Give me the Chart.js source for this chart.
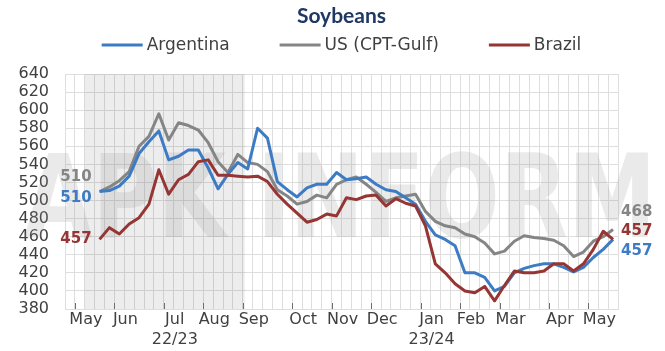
<!DOCTYPE html>
<html>
<head>
<meta charset="utf-8">
<script src="https://cdn.jsdelivr.net/npm/chart.js@4.4.1/dist/chart.umd.min.js"></script>
<style>
  html, body { margin: 0; padding: 0; background: #fff; }
  #wrap { width: 665px; height: 351px; }
</style>
</head>
<body>
<div id="wrap"><canvas id="myChart"></canvas></div>
<script>
// Weekly soybean export prices, USD/t
const argentina = [510, 511, 516, 527, 552, 565, 577, 545, 549, 556, 556, 536, 513, 529, 542, 535,
  580, 569, 521, 512, 504, 514, 518, 518, 531, 523, 524, 526, 518, 512, 510, 503, 496, 477,
  462, 457, 450, 420, 420, 415, 400, 405, 420, 425, 428, 430, 430, 426, 421, 426, 437, 446, 457];
const usGulf = [510, 515, 522, 532, 560, 571, 596, 567, 586, 583, 578, 564, 543, 531, 551, 542,
  540, 532, 512, 505, 496, 499, 506, 503, 518, 523, 526, 518, 509, 499, 503, 505, 507, 488,
  477, 472, 470, 463, 460, 453, 441, 444, 455, 461, 459, 458, 456, 450, 438, 443, 455, 460, 468];
const brazil = [457, 470, 463, 474, 481, 496, 534, 507, 523, 529, 543, 545, 528, 528, 527, 526,
  527, 521, 507, 496, 486, 476, 479, 485, 483, 503, 501, 505, 506, 494, 502, 497, 494, 472,
  430, 420, 408, 400, 398, 405, 389, 406, 422, 420, 420, 422, 430, 430, 422, 430, 446, 466, 457];

// x axis counts weeks from the first May tick
const firstWeek = 2.5;
const monthWeeks = [0, 4, 9, 13, 17, 22, 26, 30, 35, 39, 43, 48, 52];
const monthLabels = ['May', 'Jun', ['Jul', '22/23'], 'Aug', 'Sep', 'Oct', 'Nov', 'Dec',
  ['Jan', '23/24'], 'Feb', 'Mar', 'Apr', 'May'];
const seasonWeeks = [1, 17.2]; // shaded 22/23 stretch

const yMin = 380, yMax = 640, yStep = 20;

const FONT = '"DejaVu Sans", sans-serif';
const TEXT = '#404040';
const GRID = '#dedede';

const gridWeeks = [];
for (let w = -1; w <= 55; w++) gridWeeks.push(w);

const toPoints = values => values.map((v, i) => ({ x: firstWeek + i, y: v }));

// shading, watermark and the short month ticks, all under the lines
const backdrop = {
  id: 'backdrop',
  beforeDatasetsDraw(chart) {
    const { ctx, chartArea: area, scales: { x } } = chart;
    ctx.save();
    const x0 = x.getPixelForValue(seasonWeeks[0]);
    const x1 = x.getPixelForValue(seasonWeeks[1]);
    ctx.fillStyle = 'rgba(0,0,0,0.07)';
    ctx.fillRect(x0, area.top, x1 - x0, area.bottom - area.top);

    ctx.save();
    ctx.translate(24, 237);
    ctx.scale(0.77, 1);
    ctx.font = 'bold 115px ' + FONT;
    ctx.fillStyle = 'rgba(150,150,150,0.2)';
    ctx.textBaseline = 'alphabetic';
    ctx.fillText('APK INFORM', 0, 0);
    ctx.restore();

    ctx.strokeStyle = '#6e6e6e';
    ctx.lineWidth = 1;
    monthWeeks.forEach(w => {
      const px = Math.round(x.getPixelForValue(w)) + 0.5;
      ctx.beginPath();
      ctx.moveTo(px, area.bottom - 6);
      ctx.lineTo(px, area.bottom);
      ctx.stroke();
    });
    ctx.restore();
  }
};

// first and last values written beside each line
const valueLabels = {
  id: 'valueLabels',
  afterDatasetsDraw(chart) {
    const { ctx, scales: { x, y } } = chart;
    const nudges = [[7, 12], [-14, -17], [0, -8]]; // [start dy, end dy]
    ctx.save();
    ctx.font = 'bold 15px ' + FONT;
    ctx.textBaseline = 'middle';
    chart.data.datasets.forEach((ds, i) => {
      const first = ds.data[0];
      const last = ds.data[ds.data.length - 1];
      ctx.fillStyle = ds.borderColor;
      ctx.textAlign = 'right';
      ctx.fillText(String(first.y), x.getPixelForValue(first.x) - 8, y.getPixelForValue(first.y) + nudges[i][0]);
      ctx.textAlign = 'left';
      ctx.fillText(String(last.y), x.getPixelForValue(last.x) + 8, y.getPixelForValue(last.y) + nudges[i][1]);
    });
    ctx.restore();
  }
};

// legend row: line sample followed by the series name
const lineLegend = {
  id: 'lineLegend',
  afterDraw(chart) {
    const { ctx, chartArea: area } = chart;
    const lineLen = 41, gap = 4, itemGap = 50, yMid = 45;
    ctx.save();
    ctx.font = '17px ' + FONT;
    const items = chart.data.datasets.map(ds => ({
      text: ds.label, color: ds.borderColor,
      width: lineLen + gap + ctx.measureText(ds.label).width
    }));
    const total = items.reduce((s, it) => s + it.width, 0) + itemGap * (items.length - 1);
    let cx = (area.left + area.right) / 2 - total / 2;
    ctx.textBaseline = 'middle';
    ctx.textAlign = 'left';
    items.forEach(it => {
      ctx.strokeStyle = it.color;
      ctx.lineWidth = 3;
      ctx.beginPath();
      ctx.moveTo(cx, yMid);
      ctx.lineTo(cx + lineLen, yMid);
      ctx.stroke();
      ctx.fillStyle = TEXT;
      ctx.fillText(it.text, cx + lineLen + gap, yMid + 1);
      cx += it.width + itemGap;
    });
    ctx.restore();
  }
};

const ctx = document.getElementById('myChart').getContext('2d');
const myChart = new Chart(ctx, {
  type: 'line',
  data: {
    datasets: [
      { label: 'Argentina', data: toPoints(argentina), borderColor: '#3d7cc4', order: 2 },
      { label: 'US (CPT-Gulf)', data: toPoints(usGulf), borderColor: '#858585', order: 3 },
      { label: 'Brazil', data: toPoints(brazil), borderColor: '#953634', order: 1 }
    ]
  },
  options: {
    responsive: true,
    maintainAspectRatio: false,
    animation: false,
    layout: { padding: { left: 15, right: 47, top: 0, bottom: 0 } },
    elements: {
      line: { borderWidth: 3, tension: 0, borderJoinStyle: 'round', fill: false },
      point: { radius: 0, hoverRadius: 0 }
    },
    plugins: {
      legend: { display: false },
      tooltip: { enabled: false },
      title: {
        display: true,
        text: 'Soybeans',
        color: '#1f3864',
        fullSize: false,
        font: { family: 'Lato', weight: 'bold', size: 21 },
        padding: { top: 4, bottom: 44.8 }
      }
    },
    scales: {
      x: {
        type: 'linear',
        min: -1,
        max: 55,
        afterBuildTicks: scale => { scale.ticks = gridWeeks.map(v => ({ value: v })); },
        grid: { color: GRID, drawTicks: false },
        border: { color: GRID },
        ticks: {
          autoSkip: false,
          maxRotation: 0,
          minRotation: 0,
          padding: 1,
          labelOffset: 11,
          color: TEXT,
          font: { family: FONT, size: 16, lineHeight: 1.25 },
          callback: value => {
            const k = monthWeeks.indexOf(value);
            return k >= 0 ? monthLabels[k] : '';
          }
        }
      },
      y: {
        min: yMin,
        max: yMax,
        afterFit: scale => { scale.width = 50; },
        grid: { color: GRID, drawTicks: false },
        border: { color: GRID },
        ticks: {
          stepSize: yStep,
          autoSkip: false,
          padding: 16,
          color: TEXT,
          font: { family: FONT, size: 16 }
        }
      }
    }
  },
  plugins: [backdrop, valueLabels, lineLegend]
});
</script>
</body>
</html>
